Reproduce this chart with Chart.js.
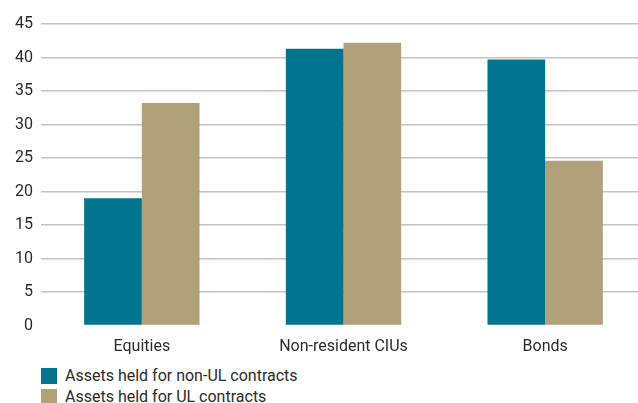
<!DOCTYPE html>
<html>
<head>
<meta charset="utf-8">
<script src="https://cdn.jsdelivr.net/npm/chart.js@4"></script>
<style>
  html, body { margin: 0; padding: 0; background: #fff; overflow: hidden; }
  body { width: 638px; height: 403px; position: relative; font-family: Roboto, "Liberation Sans", sans-serif; color: #2b2b2b; }
  #wrap { position: absolute; left: 0; top: 0; width: 638px; height: 360px; overflow: hidden; }
  #wrap canvas { position: absolute; left: 0; top: 0; }
  #legend { position: absolute; left: 41px; top: 365px; font-size: 16px; line-height: 16px; }
  .item { display: flex; align-items: center; height: 21px; }
  .box { width: 16px; height: 16px; margin-right: 8px; }
</style>
</head>
<body>
<div id="wrap"><canvas id="chart" width="646" height="360"></canvas></div>
<div id="legend"></div>
<script>
const categories = ['Equities', 'Non-resident CIUs', 'Bonds'];
const nonUL = [19.0, 41.3, 39.7];
const ul = [33.2, 42.2, 24.6];
const seriesNames = ['Assets held for non-UL contracts', 'Assets held for UL contracts'];
const colors = ['#00758d', '#b1a17b'];
const yTicks = [0, 5, 10, 15, 20, 25, 30, 35, 40, 45];

const font = { family: 'Roboto, "Liberation Sans", sans-serif', size: 16 };

new Chart(document.getElementById('chart'), {
    type: 'bar',
    data: {
        labels: categories,
        datasets: [
            { label: seriesNames[0], data: nonUL, backgroundColor: colors[0] },
            { label: seriesNames[1], data: ul, backgroundColor: colors[1] }
        ]
    },
    options: {
        responsive: false,
        animation: false,
        layout: { padding: { top: 24, right: 0, bottom: 0, left: 0 } },
        datasets: { bar: { barPercentage: 1, categoryPercentage: 0.572 } },
        plugins: { legend: { display: false }, tooltip: { enabled: false } },
        scales: {
            x: {
                grid: { display: false },
                border: { display: false },
                ticks: { color: '#2b2b2b', font: font, padding: 4 },
                afterFit: s => { s.height = 34.5; }
            },
            y: {
                min: 0,
                max: 45,
                afterBuildTicks: s => { s.ticks = yTicks.map(v => ({ value: v })); },
                grid: {
                    color: c => c.tick.value === 0 ? 'rgba(0,0,0,0)' : '#c4c4c4',
                    lineWidth: 1.5,
                    drawTicks: false
                },
                border: { display: false },
                ticks: { color: '#2b2b2b', font: font, padding: 8 },
                afterFit: s => { s.width = 41; }
            }
        }
    }
});

document.getElementById('legend').innerHTML = seriesNames.map((name, i) => `
    <div class="item"><span class="box" style="background:${colors[i]}"></span>${name}</div>
`).join('');
</script>
</body>
</html>
